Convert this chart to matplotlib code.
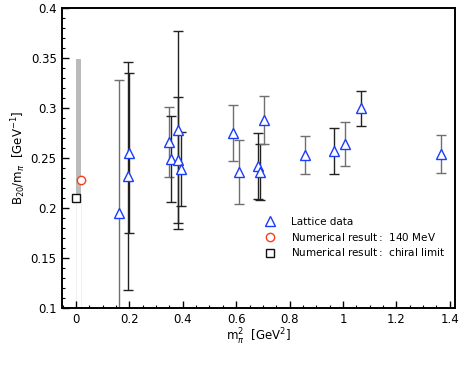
import numpy as np
import matplotlib
matplotlib.use('Agg')
import matplotlib.pyplot as plt
import matplotlib.ticker as mticker

# lattice data: m_pi^2, B20/m_pi, error, error-bar shade
lat_x   = [0.161, 0.196, 0.200, 0.348, 0.355, 0.381, 0.383, 0.392,
           0.587, 0.610, 0.683, 0.689, 0.703, 0.858, 0.968, 1.008,
           1.069, 1.367]
lat_y   = [0.195, 0.232, 0.255, 0.266, 0.249, 0.248, 0.278, 0.239,
           0.275, 0.236, 0.242, 0.236, 0.288, 0.253, 0.257, 0.264,
           0.300, 0.254]
lat_err = [0.133, 0.114, 0.080, 0.035, 0.043, 0.063, 0.099, 0.037,
           0.028, 0.032, 0.033, 0.028, 0.024, 0.019, 0.023, 0.022,
           0.0175, 0.019]
lat_dark = [False, True, True, False, True, True, True, True,
            False, False, True, True, False, False, True, False,
            True, False]

# numerical results
phys_x, phys_y = 0.0196, 0.228      # m_pi = 140 MeV
chiral_x, chiral_y = 0.0, 0.210     # chiral limit
band_x = [0.0, 0.0196]
band_lo, band_hi = 0.210, 0.349

fig = plt.figure(figsize=(4.63, 3.71), dpi=100)
ax = fig.add_axes([0.133, 0.170, 0.850, 0.808])

ax.fill_between(band_x, band_lo, band_hi, color='#bbbbbb', lw=0, zorder=1)
for bx in band_x:
    ax.plot([bx, bx], [0.1, band_lo], color='#eeeeee', lw=0.6, zorder=1)

for x, y, e, dark in zip(lat_x, lat_y, lat_err, lat_dark):
    ax.errorbar(x, y, yerr=e, fmt='none', ecolor='#222222' if dark else '#707070',
                elinewidth=1.0, capsize=3.5, capthick=1.0, zorder=2)
ax.plot(lat_x, lat_y, ls='none', marker='^', ms=6.5, mfc='white', mec='#1a3cff',
        mew=1.0, zorder=3, label='Lattice data')
ax.plot(phys_x, phys_y, ls='none', marker='o', ms=6, mfc='white', mec='#ff3a1a',
        mew=1.0, zorder=4, label='Numerical result$\\,$:  140 MeV')
ax.plot(chiral_x, chiral_y, ls='none', marker='s', ms=5.5, mfc='white', mec='#111111',
        mew=1.0, zorder=4, label='Numerical result$\\,$:  chiral limit')

ax.set_xlim(-0.054, 1.42)
ax.set_ylim(0.1, 0.4)
ax.xaxis.set_major_locator(mticker.MultipleLocator(0.2))
ax.xaxis.set_minor_locator(mticker.MultipleLocator(0.05))
ax.yaxis.set_major_locator(mticker.MultipleLocator(0.05))
ax.yaxis.set_minor_locator(mticker.MultipleLocator(0.01))
ax.xaxis.set_major_formatter(mticker.FuncFormatter(lambda v, _: f'{v:g}'))
ax.yaxis.set_major_formatter(mticker.FuncFormatter(lambda v, _: f'{v:g}'))
ax.tick_params(which='both', direction='in', labelsize=8.5, top=False, right=False)
ax.tick_params(which='major', length=5, width=1.0)
ax.tick_params(which='minor', length=2.5, width=0.8)
for s in ax.spines.values():
    s.set_linewidth(1.4)

ax.set_xlabel('m$^2_\\pi$  [GeV$^2$]', fontsize=8.5, labelpad=1)
ax.set_ylabel('B$_{20}$/m$_\\pi$  [GeV$^{-1}$]', fontsize=8.5, labelpad=2)

ax.legend(loc='upper left', bbox_to_anchor=(0.49, 0.335), frameon=False,
          fontsize=7.5, handletextpad=1.4, labelspacing=0.35, handlelength=1.2)

fig.savefig('out.png', dpi=100)
